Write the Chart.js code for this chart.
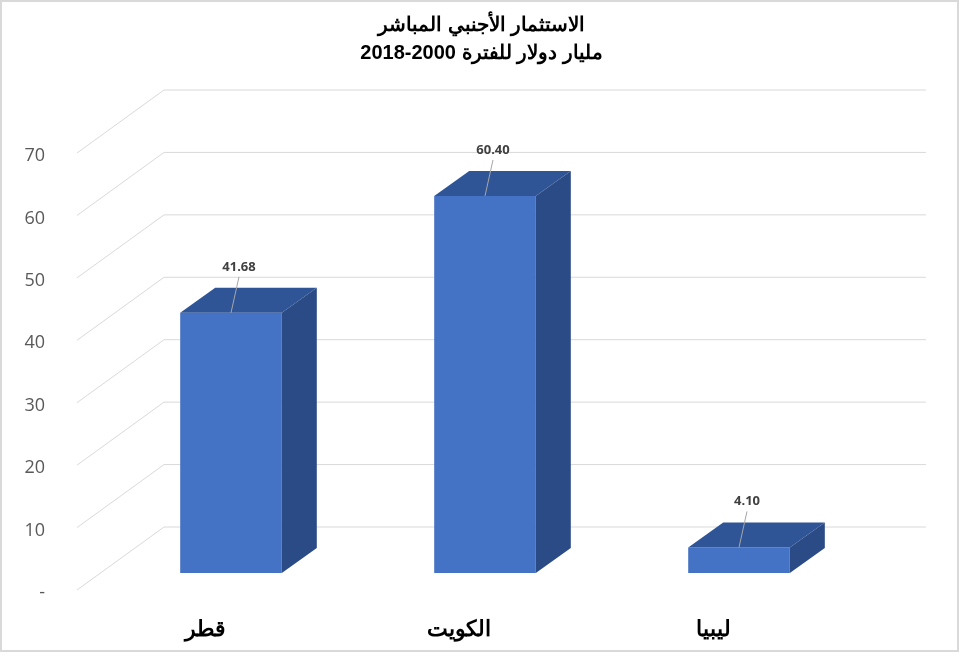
<!DOCTYPE html>
<html>
<head>
<meta charset="utf-8">
<script src="https://cdn.jsdelivr.net/npm/chart.js@4.4.1/dist/chart.umd.min.js"></script>
<style>
  html, body { margin: 0; padding: 0; background: #fff; }
  #wrap { width: 963px; height: 656px; }
</style>
</head>
<body>
<div id="wrap"><canvas id="fdiChart"></canvas></div>
<script>
// بيانات الرسم
const countries = ['قطر', 'الكويت', 'ليبيا'];
const fdiValues = [41.68, 60.40, 4.10];
const titleLines = ['الاستثمار الأجنبي المباشر', 'مليار دولار للفترة 2000-2018'];

// 3D offsets (relative to bar front plane)
const BACK = { dx: 60, dy: -46 };   // back wall
const FRONT = { dx: -27, dy: 17 };  // front edge of left wall
const DEPTH = { dx: 35, dy: -25 };  // bar depth

const wallPlugin = {
  id: 'wall3d',
  beforeDatasetsDraw(chart) {
    const { ctx, chartArea } = chart;
    const y = chart.scales.y;
    ctx.save();
    ctx.strokeStyle = '#d9d9d9';
    ctx.lineWidth = 1;
    y.ticks.forEach(t => {
      const py = y.getPixelForValue(t.value);
      ctx.beginPath();
      ctx.moveTo(chartArea.left + FRONT.dx, py + FRONT.dy);
      ctx.lineTo(chartArea.left + BACK.dx, py + BACK.dy);
      ctx.lineTo(chartArea.right + BACK.dx, py + BACK.dy);
      ctx.stroke();
    });
    ctx.restore();
  },
  afterDatasetsDraw(chart) {
    const { ctx } = chart;
    const meta = chart.getDatasetMeta(0);
    ctx.save();
    meta.data.forEach((bar, i) => {
      const l = bar.x - bar.width / 2, r = bar.x + bar.width / 2;
      const top = bar.y, bottom = bar.base;
      // top face
      ctx.fillStyle = '#2F5597';
      ctx.beginPath();
      ctx.moveTo(l, top);
      ctx.lineTo(r, top);
      ctx.lineTo(r + DEPTH.dx, top + DEPTH.dy);
      ctx.lineTo(l + DEPTH.dx, top + DEPTH.dy);
      ctx.closePath();
      ctx.fill();
      // side face
      ctx.fillStyle = '#2B4B86';
      ctx.beginPath();
      ctx.moveTo(r, top);
      ctx.lineTo(r + DEPTH.dx, top + DEPTH.dy);
      ctx.lineTo(r + DEPTH.dx, bottom + DEPTH.dy);
      ctx.lineTo(r, bottom);
      ctx.closePath();
      ctx.fill();

      // data label + leader line
      const lx = bar.x + 8, ly = top - 46;
      ctx.strokeStyle = '#a6a6a6';
      ctx.lineWidth = 1;
      ctx.beginPath();
      ctx.moveTo(lx, ly + 10);
      ctx.lineTo(bar.x, top);
      ctx.stroke();
      ctx.fillStyle = '#404040';
      ctx.font = 'bold 13px "Open Sans", sans-serif';
      ctx.textAlign = 'center';
      ctx.textBaseline = 'middle';
      ctx.fillText(fdiValues[i].toFixed(2), lx, ly);
    });
    ctx.restore();
  },
  afterDraw(chart) {
    const { ctx } = chart;
    ctx.save();
    ctx.strokeStyle = '#d9d9d9';
    ctx.lineWidth = 2;
    ctx.strokeRect(1, 1, 957, 650);
    ctx.restore();
  }
};

const chart = new Chart(document.getElementById('fdiChart'), {
  type: 'bar',
  data: {
    labels: countries,
    datasets: [{
      data: fdiValues,
      backgroundColor: '#4472C4',
      borderWidth: 0,
      barPercentage: 0.4,
      categoryPercentage: 1.0
    }]
  },
  options: {
    responsive: true,
    maintainAspectRatio: false,
    animation: false,
    layout: { padding: 0 },
    plugins: {
      legend: { display: false },
      tooltip: { enabled: false },
      title: {
        display: true,
        text: titleLines,
        color: '#000',
        font: { family: 'Arial, "Liberation Sans", sans-serif', size: 20, weight: 'bold', lineHeight: 1.4 },
        padding: { top: 11, bottom: 69 }
      }
    },
    scales: {
      x: {
        grid: { display: false },
        border: { display: false },
        ticks: {
          color: '#000',
          font: { family: 'Arial, "Liberation Sans", sans-serif', size: 22, weight: 'bold' },
          padding: 36,
          labelOffset: -26,
          maxRotation: 0
        },
        afterFit(scale) { scale.height = 83; }
      },
      y: {
        min: 0,
        max: 70,
        grid: { display: false },
        border: { display: false },
        ticks: {
          stepSize: 10,
          color: '#595959',
          font: { family: '"Open Sans", sans-serif', size: 18 },
          padding: 51,
          labelOffset: 20,
          callback: v => v === 0 ? '-' : v
        },
        afterFit(scale) { scale.width = 104; }
      },
      // empty right-hand axis: keeps room for the back wall and keeps the title centred on the page
      yRight: {
        position: 'right',
        display: true,
        grid: { display: false },
        border: { display: false },
        ticks: { display: false },
        afterFit(scale) { scale.width = 97; }
      }
    }
  },
  plugins: [wallPlugin]
});
</script>
</body>
</html>
